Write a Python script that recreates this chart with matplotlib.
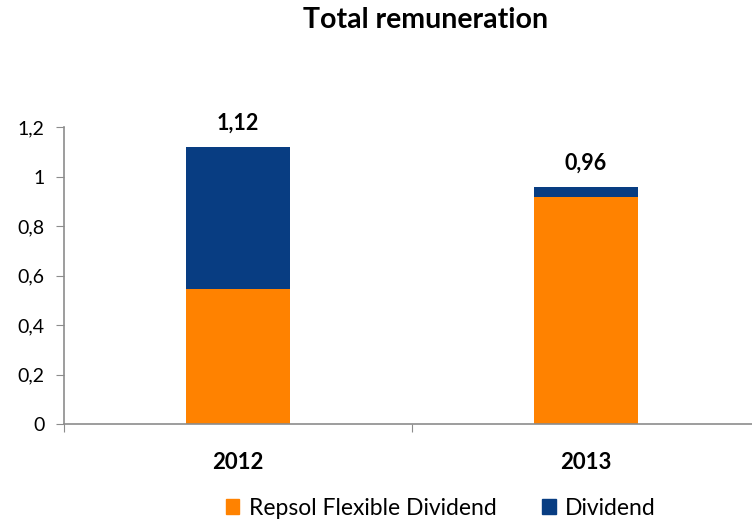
import matplotlib.pyplot as plt
from matplotlib.ticker import FuncFormatter
from matplotlib.patches import Patch

# Data
years = ["2012", "2013"]
flexible = [0.545, 0.917]
dividend = [0.575, 0.041]
totals = ["1,12", "0,96"]

orange = "#FF8200"
blue = "#083D82"

plt.rcParams["font.family"] = ["Lato", "DejaVu Sans"]

fig = plt.figure(figsize=(7.52, 5.24), dpi=100)
ax = fig.add_axes([0.0848, 0.1908, 0.9255, 0.5668])

x = range(len(years))
ax.bar(x, flexible, width=0.3, color=orange, label="Repsol Flexible Dividend")
ax.bar(x, dividend, width=0.3, bottom=flexible, color=blue, label="Dividend")

for i, t in enumerate(totals):
    ax.text(i, flexible[i] + dividend[i] + 0.055, t, ha="center", va="bottom",
            fontsize=15.5, fontweight="bold")

ax.set_xlim(-0.5, 1.5)
ax.set_ylim(0, 1.2)
ax.set_yticks([0, 0.2, 0.4, 0.6, 0.8, 1.0, 1.2])
ax.yaxis.set_major_formatter(FuncFormatter(lambda v, p: f"{v:g}".replace(".", ",")))
ax.set_xticks([-0.5, 0.5, 1.5])
ax.set_xticklabels([])
ax.set_xticks([0, 1], minor=True)
ax.set_xticklabels(years, minor=True, fontsize=16, fontweight="bold")
ax.tick_params(axis="x", which="minor", length=0, pad=20)
ax.tick_params(axis="x", which="major", length=6, color="#8c8c8c")
ax.tick_params(axis="y", length=6, color="#8c8c8c", labelsize=14, pad=8)

for side in ["top", "right"]:
    ax.spines[side].set_visible(False)
for side in ["left", "bottom"]:
    ax.spines[side].set_color("#8c8c8c")
    ax.spines[side].set_linewidth(1.2)

fig.text(0.566, 0.962, "Total remuneration", ha="center", va="center",
         fontsize=20.5, fontweight="bold")

handles = [Patch(color=orange, label="Repsol Flexible Dividend"),
           Patch(color=blue, label="Dividend")]
fig.legend(handles=handles, loc="center", bbox_to_anchor=(0.586, 0.0305), ncol=2,
           frameon=False, fontsize=16.5, handlelength=0.6, handleheight=0.6,
           handletextpad=0.4, columnspacing=2.0)

fig.savefig("out.png", dpi=100)
